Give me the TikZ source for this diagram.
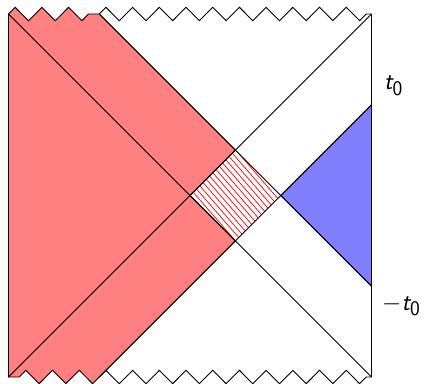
\documentclass[tikz,border=0pt]{standalone}
\usepackage{amsmath}
\usepackage{fontspec}
\usetikzlibrary{decorations.pathmorphing}
\definecolor{redfill}{HTML}{FF8080}
\definecolor{bluefill}{HTML}{8080FF}
\begin{document}
\begin{tikzpicture}[x=1pt,y=1pt,
  zz/.style={decoration={zigzag,segment length=26.7pt,amplitude=6.7pt}},
  edge/.style={line width=0.9pt,line join=miter},
  hatchline/.style={red,line width=0.7pt},
  lbl/.style={anchor=base west,inner sep=0pt,font=\Huge}]
\useasboundingbox (0,0) rectangle (427,383);
% corners of the square
\coordinate (TL) at (8.5,369);
\coordinate (TR) at (371.5,369);
\coordinate (BL) at (8.5,6);
\coordinate (BR) at (371.5,6);
\coordinate (C)  at (190,187.5);
% shifted null lines
\coordinate (RT) at (99.25,369);
\coordinate (RB) at (99.25,6);
\coordinate (T)  at (235.375,232.875);
\coordinate (B)  at (235.375,142.125);
\coordinate (R)  at (280.75,187.5);
\coordinate (BU) at (371.5,278.25);
\coordinate (BD) at (371.5,96.75);
% red region
\filldraw[fill=redfill,edge] (TL) decorate[zz]{-- (RT)} -- (T) -- (C) -- (B) -- (RB) decorate[zz]{-- (BL)} -- cycle;
% blue region
\filldraw[fill=bluefill,edge] (R) -- (BU) -- (BD) -- cycle;
% hatched diamond
\begin{scope}
  \clip (C) -- (T) -- (R) -- (B) -- cycle;
  \foreach \v in {413,420,...,504}
    \draw[hatchline] (180,\v-207) -- (290,\v-333.5);
\end{scope}
% lines
\draw[edge] (TL) -- (BR);
\draw[edge] (BL) -- (TR);
\draw[edge] (RT) -- (BD);
\draw[edge] (RB) -- (BU);
\draw[edge] (BL) -- (TL);
\draw[edge] (BR) -- (TR);
\draw[edge] (RT) decorate[zz]{-- (TR)};
\draw[edge] (RB) decorate[zz]{-- (BR)};
% labels
\node[lbl] (t0) at (384,293) {$\textsf{\slshape t}_{\textsf{0}}$};
\node[lbl] (mt0) at (382,73) {$-\textsf{\slshape t}_{\textsf{0}}$};
\end{tikzpicture}
\end{document}
